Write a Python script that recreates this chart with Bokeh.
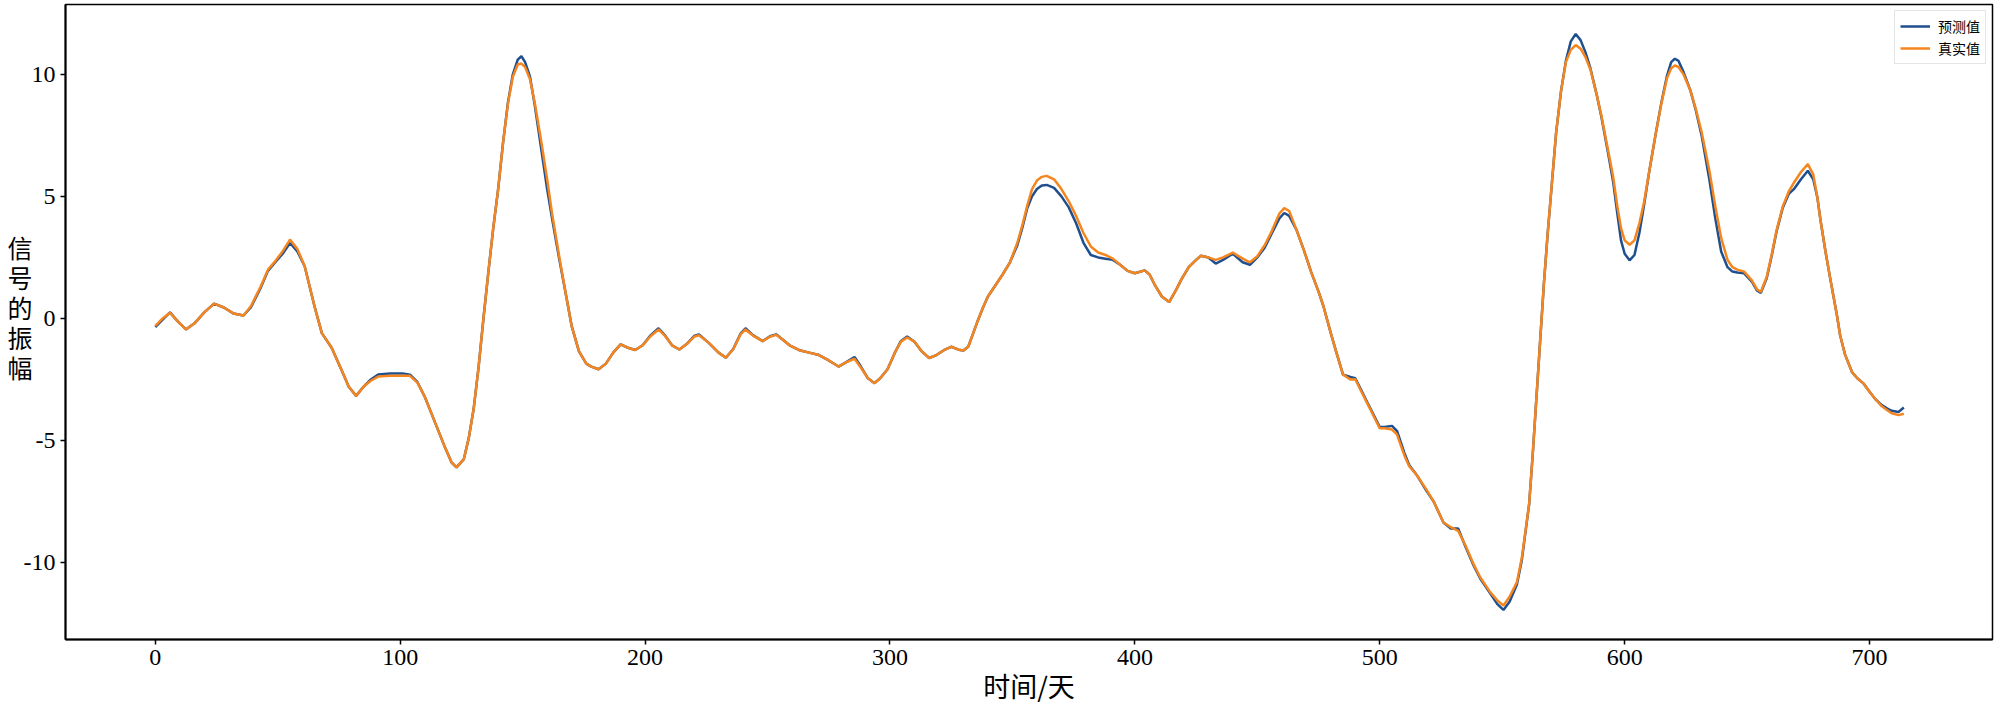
from bokeh.plotting import figure
from bokeh.models import Range1d, FixedTicker, Legend, LegendItem, PrintfTickFormatter
from bokeh.embed import file_html
from bokeh.resources import INLINE

# ---- data (day, value) ----
days = [0, 3, 6, 9, 12.5, 16, 20, 24, 28, 32, 36, 39, 43, 46, 49, 52, 55, 58, 61, 65,
        68, 72, 76, 79, 82, 85, 88, 91, 96, 101, 104, 107, 110, 113, 118, 121, 123, 126, 128, 130,
        132, 134, 136, 138, 140, 142, 144, 146, 148, 149.5, 151, 153, 155, 157.5, 160, 162, 165, 168, 170, 173,
        176, 178, 181, 184, 187, 190, 193, 196, 199, 202, 205.5, 208, 211, 214, 217, 220, 222, 226, 230, 233,
        236, 239, 241, 244, 248, 251, 253.5, 256, 259, 263, 267, 271, 275, 279, 282, 285.5, 288, 291, 293.7, 296,
        299, 302, 304.5, 307, 310, 313, 316, 319, 322, 325, 328, 330, 332, 334, 336, 338, 340, 343, 346, 349,
        352, 354, 356, 358, 360, 362, 364, 367, 370, 373, 376, 379, 382, 385, 388, 391, 394, 397, 400, 404,
        406, 408, 411, 414, 417, 419, 422, 425, 427, 430, 433, 436, 440, 444, 447, 450, 453, 456, 459, 461,
        463, 466, 469, 472, 475, 477, 480, 482, 485, 488, 490, 492, 495, 498, 500, 502, 505, 507, 510, 512,
        515, 519, 522, 526, 529, 532, 535, 538, 541, 545, 548, 550.5, 553, 556, 558, 561, 562.5, 564, 565.5, 567,
        568.5, 570, 572, 574, 576, 578, 580, 582, 584, 586, 588.5, 590.5, 593, 595.3, 597, 598.5, 600, 602, 604, 606,
        608, 610, 612.6, 615, 617.3, 619, 620.5, 622, 624, 626.8, 629, 631.5, 634.6, 637, 639.4, 642, 644, 646, 648.8, 652,
        654, 655.6, 658, 660, 662, 664.6, 667, 669.3, 672, 674.8, 677, 678.7, 680, 682, 684, 686.6, 688, 690, 692.9, 695,
        697.6, 700, 702.4, 705, 707.1, 709, 711.8, 714]

true_vals = [-0.30, 0.00, 0.23, -0.10, -0.45, -0.20, 0.25, 0.61, 0.45, 0.20, 0.12, 0.50, 1.30, 2.00, 2.35, 2.75, 3.23, 2.85, 2.14, 0.50,
             -0.60, -1.20, -2.10, -2.80, -3.17, -2.80, -2.55, -2.38, -2.35, -2.35, -2.35, -2.63, -3.20, -3.95, -5.21, -5.90, -6.10, -5.76, -4.90, -3.70,
             -2.00, 0.00, 1.90, 3.70, 5.30, 7.20, 8.80, 9.90, 10.40, 10.44, 10.30, 9.80, 8.80, 7.31, 5.70, 4.30, 2.50, 0.80, -0.30, -1.35,
             -1.85, -1.97, -2.08, -1.85, -1.40, -1.06, -1.20, -1.29, -1.10, -0.75, -0.45, -0.70, -1.10, -1.27, -1.05, -0.75, -0.69, -1.00, -1.40, -1.61,
             -1.25, -0.65, -0.45, -0.70, -0.93, -0.75, -0.67, -0.85, -1.10, -1.30, -1.40, -1.50, -1.72, -1.97, -1.80, -1.65, -2.00, -2.45, -2.65, -2.45,
             -2.08, -1.40, -0.95, -0.78, -0.95, -1.35, -1.62, -1.50, -1.30, -1.16, -1.28, -1.31, -1.15, -0.60, -0.05, 0.45, 0.90, 1.35, 1.80, 2.30,
             3.10, 3.80, 4.60, 5.30, 5.65, 5.80, 5.84, 5.70, 5.30, 4.80, 4.20, 3.50, 2.95, 2.70, 2.60, 2.45, 2.20, 1.95, 1.85, 1.97,
             1.80, 1.40, 0.90, 0.67, 1.20, 1.60, 2.10, 2.40, 2.57, 2.50, 2.40, 2.50, 2.70, 2.45, 2.30, 2.55, 3.00, 3.60, 4.30, 4.52,
             4.40, 3.63, 2.80, 1.90, 1.10, 0.50, -0.60, -1.30, -2.30, -2.50, -2.49, -2.90, -3.50, -4.10, -4.50, -4.50, -4.55, -4.75, -5.60, -6.05,
             -6.40, -7.00, -7.50, -8.36, -8.55, -8.70, -9.30, -10.00, -10.60, -11.20, -11.55, -11.76, -11.40, -10.80, -9.80, -7.60, -5.50, -3.20, -0.90, 1.40,
             3.40, 5.20, 7.60, 9.30, 10.50, 11.00, 11.20, 11.05, 10.70, 10.20, 9.20, 8.30, 7.00, 5.80, 4.60, 3.70, 3.20, 3.02, 3.20, 3.90,
             4.80, 6.00, 7.52, 8.80, 9.85, 10.25, 10.36, 10.30, 10.00, 9.35, 8.60, 7.60, 6.05, 4.60, 3.30, 2.40, 2.10, 2.00, 1.92, 1.55,
             1.20, 1.09, 1.70, 2.60, 3.60, 4.60, 5.20, 5.59, 6.00, 6.32, 5.90, 4.95, 4.00, 2.74, 1.60, 0.17, -0.70, -1.48, -2.21, -2.45,
             -2.67, -3.00, -3.31, -3.60, -3.75, -3.88, -3.96, -3.90]

pred_vals = [-0.35, -0.05, 0.25, -0.10, -0.45, -0.20, 0.25, 0.61, 0.45, 0.20, 0.12, 0.45, 1.25, 1.95, 2.30, 2.65, 3.09, 2.75, 2.14, 0.50,
             -0.60, -1.20, -2.10, -2.80, -3.17, -2.80, -2.50, -2.30, -2.25, -2.25, -2.30, -2.60, -3.20, -3.95, -5.21, -5.90, -6.10, -5.76, -4.90, -3.70,
             -2.00, 0.00, 1.90, 3.70, 5.30, 7.20, 8.85, 10.00, 10.60, 10.74, 10.50, 9.90, 8.70, 7.00, 5.30, 4.10, 2.40, 0.80, -0.30, -1.35,
             -1.85, -1.97, -2.08, -1.85, -1.40, -1.06, -1.20, -1.29, -1.10, -0.72, -0.40, -0.68, -1.10, -1.27, -1.05, -0.72, -0.65, -1.00, -1.40, -1.61,
             -1.25, -0.62, -0.40, -0.68, -0.93, -0.73, -0.65, -0.85, -1.10, -1.30, -1.40, -1.50, -1.72, -1.97, -1.80, -1.58, -1.95, -2.45, -2.65, -2.45,
             -2.08, -1.40, -0.92, -0.74, -0.95, -1.35, -1.62, -1.50, -1.30, -1.16, -1.28, -1.31, -1.15, -0.60, -0.05, 0.45, 0.90, 1.35, 1.80, 2.30,
             3.00, 3.70, 4.50, 5.00, 5.30, 5.45, 5.47, 5.35, 5.00, 4.55, 3.90, 3.10, 2.60, 2.50, 2.45, 2.40, 2.20, 1.95, 1.85, 1.97,
             1.80, 1.40, 0.90, 0.67, 1.20, 1.60, 2.10, 2.40, 2.57, 2.50, 2.25, 2.40, 2.65, 2.30, 2.20, 2.50, 2.90, 3.50, 4.10, 4.32,
             4.20, 3.63, 2.80, 1.90, 1.10, 0.50, -0.60, -1.30, -2.30, -2.40, -2.45, -2.85, -3.45, -4.05, -4.45, -4.45, -4.40, -4.60, -5.50, -6.00,
             -6.40, -7.05, -7.50, -8.36, -8.60, -8.60, -9.35, -10.05, -10.65, -11.25, -11.70, -11.94, -11.60, -10.90, -9.90, -7.60, -5.50, -3.20, -0.90, 1.40,
             3.40, 5.20, 7.60, 9.30, 10.55, 11.35, 11.65, 11.40, 10.90, 10.25, 9.20, 8.25, 6.90, 5.60, 4.30, 3.20, 2.65, 2.38, 2.60, 3.50,
             4.70, 6.00, 7.52, 8.85, 9.95, 10.50, 10.64, 10.55, 10.10, 9.35, 8.55, 7.45, 5.68, 4.10, 2.74, 2.10, 1.92, 1.88, 1.85, 1.50,
             1.15, 1.05, 1.65, 2.55, 3.55, 4.55, 5.10, 5.32, 5.70, 6.05, 5.70, 4.95, 4.00, 2.74, 1.60, 0.17, -0.70, -1.48, -2.21, -2.45,
             -2.67, -3.00, -3.31, -3.55, -3.68, -3.78, -3.83, -3.65]

x_ticks = [0, 100, 200, 300, 400, 500, 600, 700]
y_ticks = [-10, -5, 0, 5, 10]
series_names = ["预测值", "真实值"]
x_title = "时间/天"
y_title = "信号的振幅"

BLUE = "#1f4f8f"
ORANGE = "#f5861f"
SERIF = "Liberation Serif"
CJK = "Noto Sans CJK SC"

p = figure(width=2000, height=707,
           x_range=Range1d(-36.67, 750.2), y_range=Range1d(-13.15, 12.86),
           output_backend="svg", toolbar_location=None,
           min_border_left=65, min_border_right=8, min_border_top=4, min_border_bottom=66)

r_pred = p.line(days, pred_vals, line_color=BLUE, line_width=2.5)
r_true = p.line(days, true_vals, line_color=ORANGE, line_width=2.5)

p.grid.visible = False
p.background_fill_color = "white"
p.border_fill_color = "white"
p.outline_line_color = "black"
p.outline_line_width = 1.5

p.xaxis.ticker = FixedTicker(ticks=x_ticks)
p.yaxis.ticker = FixedTicker(ticks=y_ticks)
p.yaxis.formatter = PrintfTickFormatter(format="%d")
for ax in (p.xaxis[0], p.yaxis[0]):
    ax.axis_line_width = 2
    ax.axis_line_color = "black"
    ax.major_tick_out = 5
    ax.major_tick_in = 0
    ax.major_tick_line_width = 1.5
    ax.minor_tick_out = 0
    ax.minor_tick_in = 0
    ax.major_label_text_font = SERIF
    ax.major_label_text_font_size = "24px"
    ax.major_label_text_color = "black"
    ax.axis_label_text_font = CJK
    ax.axis_label_text_font_style = "normal"
    ax.axis_label_text_color = "black"

p.xaxis.major_label_standoff = 5
p.xaxis.axis_label = x_title
p.xaxis.axis_label_text_font_size = "27px"
p.xaxis.axis_label_text_line_height = 0.75
p.xaxis.axis_label_standoff = -2

p.yaxis.major_label_standoff = 5
p.yaxis.axis_label = "\n".join(list(y_title) + [" "])
p.yaxis.axis_label_orientation = "horizontal"
p.yaxis.axis_label_text_font_size = "25px"
p.yaxis.axis_label_text_line_height = 0.83
p.yaxis.axis_label_standoff = -12

legend = Legend(items=[LegendItem(label=series_names[0], renderers=[r_pred]),
                       LegendItem(label=series_names[1], renderers=[r_true])],
                location="top_right")
legend.label_text_font = CJK
legend.label_text_font_size = "14px"
legend.label_text_color = "black"
legend.glyph_width = 30
legend.glyph_height = 18
legend.label_height = 18
legend.label_standoff = 8
legend.spacing = 2
legend.padding = 5
legend.margin = 6
legend.border_line_color = "#cccccc"
legend.border_line_width = 1
legend.background_fill_alpha = 0.9
p.add_layout(legend)

open("out.html", "w").write(file_html(p, INLINE))
